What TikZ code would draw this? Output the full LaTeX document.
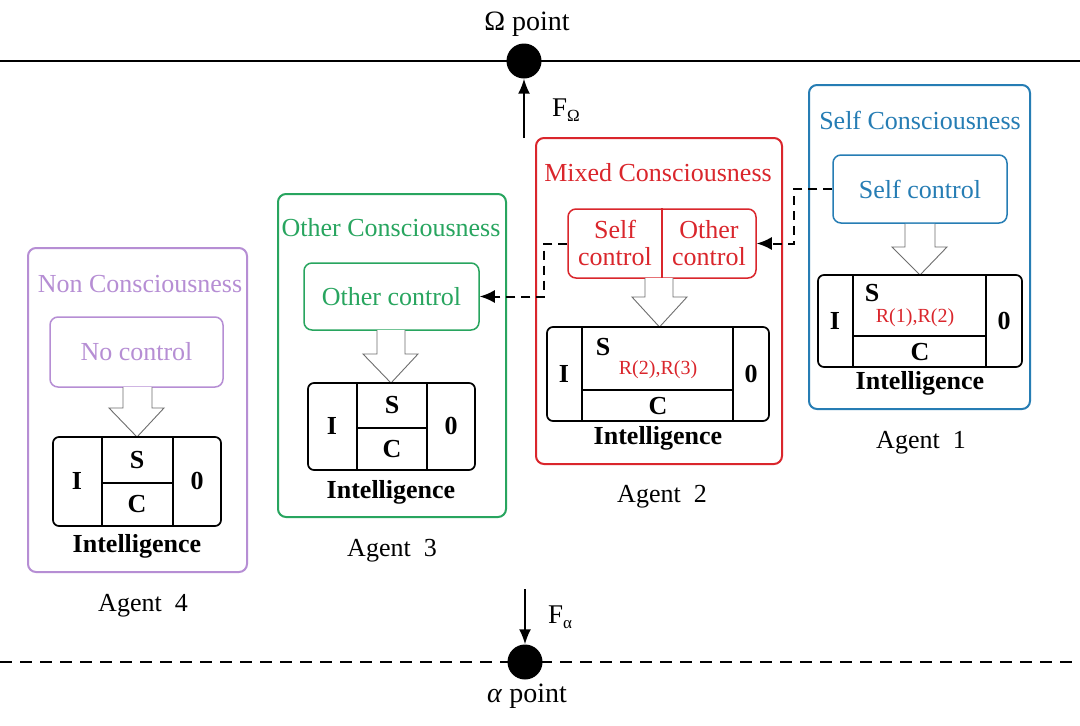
\documentclass[tikz,border=0pt]{standalone}
\usepackage{fontspec}
\setmainfont{Liberation Serif}
\usetikzlibrary{arrows.meta,calc}
\definecolor{cblue}{RGB}{38,125,180}
\definecolor{cred}{RGB}{218,38,44}
\definecolor{cgreen}{RGB}{40,165,95}
\definecolor{cpurple}{RGB}{182,142,212}
\definecolor{cgray}{RGB}{110,110,110}
\tikzset{
  agentbox/.style={draw, line width=2pt, rounded corners=8pt, inner sep=0pt},
  ctrlbox/.style={draw, line width=1.5pt, rounded corners=8pt, inner sep=0pt},
  intelbox/.style={draw=black, line width=1.7pt, rounded corners=6pt, inner sep=0pt},
  divline/.style={draw=black, line width=1.7pt},
  ttl/.style={font=\fontsize{26}{30}\selectfont, inner sep=0pt},
  bl/.style={font=\fontsize{26}{30}\selectfont\bfseries, inner sep=0pt},
  rr/.style={font=\fontsize{20}{24}\selectfont, text=cred, inner sep=0pt},
  hollow/.style={draw=cgray, fill=white, line width=0.9pt, line join=miter},
  dashconn/.style={draw=black, line width=2pt, dash pattern=on 9pt off 6pt, -{Latex[length=15pt,width=13pt]}},
  solidconn/.style={draw=black, line width=1.8pt, -{Latex[length=15pt,width=12pt]}},
  dot/.style={circle, fill=black, minimum size=35pt, inner sep=0pt}
}
\begin{document}
\begin{tikzpicture}[x=1pt,y=-1pt]
\useasboundingbox (0,0) rectangle (1080,726);
\fill[white] (0,0) rectangle (1080,726);

% Omega / alpha lines
\draw[line width=1.8pt] (0,61) -- (1080,61);
\draw[line width=1.8pt, dash pattern=on 12pt off 8pt] (0,662) -- (1080,662);
\node[dot] (omega) at (524,61) {};
\node[dot] (alpha) at (525,662) {};
\node[font=\fontsize{28}{32}\selectfont, inner sep=0pt] (omegalbl) at (527,24) {Ω point};
\node[font=\fontsize{28}{32}\selectfont, inner sep=0pt] (alphalbl) at (527,696) {\textit{α} point};
\coordinate (fo) at (524,138);
\coordinate (fa) at (525,589);
\draw[solidconn] (fo) -- (omega.south);
\draw[solidconn] (fa) -- (alpha.north);
\node[font=\fontsize{27}{30}\selectfont, inner sep=0pt] (folbl) at (566,110) {F\raisebox{-5pt}{\fontsize{17}{20}\selectfont Ω}};
\node[font=\fontsize{27}{30}\selectfont, inner sep=0pt] (falbl) at (560,617) {F\raisebox{-5pt}{\fontsize{17}{20}\selectfont α}};

% ---------------- Agent 1 (blue) ----------------
\node[agentbox, draw=cblue, minimum width=221pt, minimum height=324pt] (a1) at (919.5,247) {};
\node[ttl, text=cblue] (t1) at (920,120) {Self Consciousness};
\node[ctrlbox, draw=cblue, minimum width=174pt, minimum height=68pt, font=\fontsize{26}{30}\selectfont, text=cblue] (c1) at (920,189) {Self control};
\draw[hollow] ($(c1.south)+(-15,0)$) -- (905,247) -- (892,247) -- (920,275) -- (947,247) -- (935,247) -- ($(c1.south)+(15,0)$);
\node[intelbox, minimum width=204pt, minimum height=92pt] (i1) at (920,321) {};
\draw[divline] (853,275) -- (853,367);
\draw[divline] (986,275) -- (986,367);
\draw[divline] (853,336) -- (986,336);
\node[bl] (i1I) at (835,321) {I};
\node[bl] (i1O) at (1004,321) {0};
\node[bl] (i1S) at (872,293) {S};
\node[rr] (i1R) at (915,318) {R(1),R(2)};
\node[bl] (i1C) at (920,352) {C};
\node[bl] (i1L) at (920,383) {Intelligence};
\node[ttl] (ag1) at (921,443) {Agent\ \ 1};

% ---------------- Agent 2 (red) ----------------
\node[agentbox, draw=cred, minimum width=246pt, minimum height=326pt] (a2) at (659,301) {};
\node[ttl, text=cred] (t2) at (658,173) {Mixed Consciousness};
\node[ctrlbox, draw=cred, minimum width=188pt, minimum height=69pt] (c2) at (662,243.5) {};
\draw[draw=cred, line width=1.5pt] (c2.north) -- (c2.south);
\node[font=\fontsize{26}{27}\selectfont, text=cred, align=center, inner sep=0pt] (c2s) at (615,243) {Self\\control};
\node[font=\fontsize{26}{27}\selectfont, text=cred, align=center, inner sep=0pt] (c2o) at (709,243) {Other\\control};
\draw[hollow] (645,278) -- (645,297) -- (632,297) -- (659.5,327) -- (687,297) -- (673,297) -- (673,278);
\node[intelbox, minimum width=222pt, minimum height=94pt] (i2) at (658,374) {};
\draw[divline] (582,327) -- (582,421);
\draw[divline] (733,327) -- (733,421);
\draw[divline] (582,390) -- (733,390);
\node[bl] (i2I) at (564,374) {I};
\node[bl] (i2O) at (751,374) {0};
\node[bl] (i2S) at (603,347) {S};
\node[rr] (i2R) at (658,370) {R(2),R(3)};
\node[bl] (i2C) at (658,406) {C};
\node[bl] (i2L) at (658,438) {Intelligence};
\node[ttl] (ag2) at (662,497) {Agent\ \ 2};

% ---------------- Agent 3 (green) ----------------
\node[agentbox, draw=cgreen, minimum width=228pt, minimum height=323pt] (a3) at (392,355.5) {};
\node[ttl, text=cgreen] (t3) at (391,228) {Other Consciousness};
\node[ctrlbox, draw=cgreen, minimum width=175pt, minimum height=67pt, font=\fontsize{26}{30}\selectfont, text=cgreen] (c3) at (391.5,296.5) {Other control};
\draw[hollow] (377,330) -- (377,354) -- (363,354) -- (391,383) -- (418,354) -- (405,354) -- (405,330);
\node[intelbox, minimum width=167pt, minimum height=87pt] (i3) at (391.5,426.5) {};
\draw[divline] (357,383) -- (357,470);
\draw[divline] (427,383) -- (427,470);
\draw[divline] (357,428) -- (427,428);
\node[bl] (i3I) at (332,426) {I};
\node[bl] (i3O) at (451,426) {0};
\node[bl] (i3S) at (392,405) {S};
\node[bl] (i3C) at (392,449) {C};
\node[bl] (i3L) at (391,492) {Intelligence};
\node[ttl] (ag3) at (392,551) {Agent\ \ 3};

% ---------------- Agent 4 (purple) ----------------
\node[agentbox, draw=cpurple, minimum width=219pt, minimum height=324pt] (a4) at (137.5,410) {};
\node[ttl, text=cpurple] (t4) at (140,284) {Non Consciousness};
\node[ctrlbox, draw=cpurple, minimum width=173pt, minimum height=70pt, font=\fontsize{26}{30}\selectfont, text=cpurple] (c4) at (136.5,352) {No control};
\draw[hollow] (123,387) -- (123,408) -- (109,408) -- (137,437) -- (164,408) -- (152,408) -- (152,387);
\node[intelbox, minimum width=168pt, minimum height=89pt] (i4) at (137,481.5) {};
\draw[divline] (102,437) -- (102,526);
\draw[divline] (173,437) -- (173,526);
\draw[divline] (102,483) -- (173,483);
\node[bl] (i4I) at (77,481) {I};
\node[bl] (i4O) at (197,481) {0};
\node[bl] (i4S) at (137,460) {S};
\node[bl] (i4C) at (137,504) {C};
\node[bl] (i4L) at (137,546) {Intelligence};
\node[ttl] (ag4) at (143,606) {Agent\ \ 4};

% ---------------- dashed connectors ----------------
\draw[dashconn] (c1.west) -- ++(-38,0) |- (c2.east);
\draw[dashconn] (c2.west) -- ++(-23,0) |- (c3.east);
\end{tikzpicture}
\end{document}
